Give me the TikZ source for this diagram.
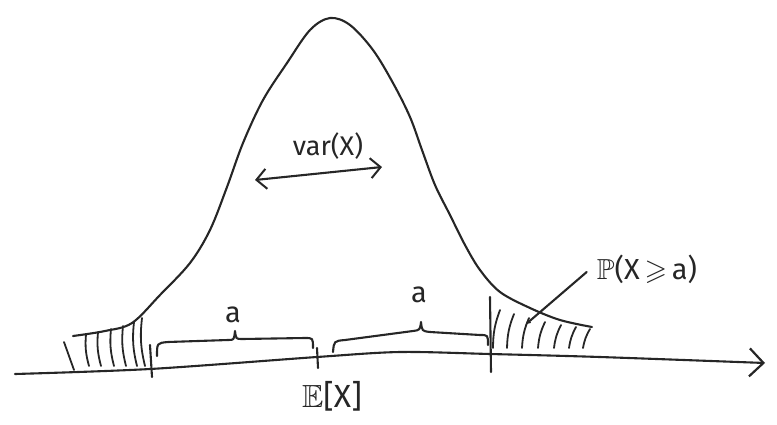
\documentclass[tikz,border=0pt]{standalone}
\usepackage{fontspec}
\usepackage{amssymb}
\setmainfont{Fira Sans}
\usetikzlibrary{arrows.meta, calc}
\tikzset{
    sketch/.style={line width=2.1pt, line cap=round, line join=round, black!85},
    hatch/.style={line width=1.8pt, line cap=round, black!85},
    lbl/.style={font=\fontsize{29}{33}\selectfont, inner sep=0pt, text=black!85},
    barb/.tip={Straight Barb[length=10pt, width=20pt, line width=2pt]},
}

\begin{document}
\begin{tikzpicture}[x=1pt, y=-1pt]
    \useasboundingbox (0,0) rectangle (777,424);

    % axis
    \draw[sketch, -{Straight Barb[length=14pt, width=28pt, line width=2.2pt]}] plot[smooth] coordinates {(15,374) (150,369) (317,357) (400,352) (490,354) (600,357) (765,363)};

    % bell curve
    \draw[sketch] plot[smooth, tension=0.55] coordinates {(73,336) (105,331) (132,323) (160,295) (190,263) (210,230) (227,187) (243,143) (263,100) (287,63) (310,30) (330,18) (350,25) (373,50) (393,83) (410,117) (422,150) (435,185) (450,215) (465,245) (480,270) (500,292) (530,308) (560,320) (592,327)};

    % tails
    \draw[hatch] (64,342) -- (74,370);
    \foreach \x/\t in {86/334, 98/332, 111/329, 123/326, 134/322, 142/318}
        \draw[hatch] (\x,\t) to[bend right=10] (\x+3,366);
    \foreach \x/\t in {500/310, 514/314, 529/318, 545/322, 561/325, 576/327, 590/329}
        \draw[hatch] (\x,\t) to[bend right=10] (\x-7,348);

    % ticks
    \draw[sketch] (150,345) -- (152,377);
    \draw[sketch] (317,348) -- (318,368);
    \draw[sketch] (490,297) -- (491,372);

    % braces
    \draw[sketch] (157,356) .. controls (157,343) .. (168,342) -- (228,340)
        .. controls (234,340) .. (235,331) .. controls (236,339) .. (242,339)
        -- (305,338) .. controls (313,338) .. (313,348);
    \draw[sketch] (333,352) .. controls (334,341) .. (345,340) -- (413,331)
        .. controls (420,330) .. (421,322) .. controls (422,331) .. (430,332)
        -- (480,335) .. controls (488,335) .. (488,345);

    % labels
    \node[lbl] (aleft) at (233,315) {a};
    \node[lbl] (aright) at (419,295) {a};
    \node[lbl, font=\fontsize{32}{36}\selectfont] (mean) at (332,396) {$\mathbb{E}$[X]};
    \node[lbl, font=\fontsize{27}{31}\selectfont] (var) at (328,146) {var(X)};
    \node[lbl] (prob) at (647,269) {$\mathbb{P}$(X\,$\geqslant$\,a)};

    % spread arrow
    \coordinate (vleft) at (255,180);
    \coordinate (vright) at (382,167);
    \draw[sketch, barb-barb] (vleft) -- (vright);

    % pointer to the tail
    \coordinate (tail) at (525,325);
    \draw[sketch, -{Latex[length=6pt, width=5pt]}] ([xshift=-10pt, yshift=-3pt]prob.west) -- (tail);
\end{tikzpicture}
\end{document}
